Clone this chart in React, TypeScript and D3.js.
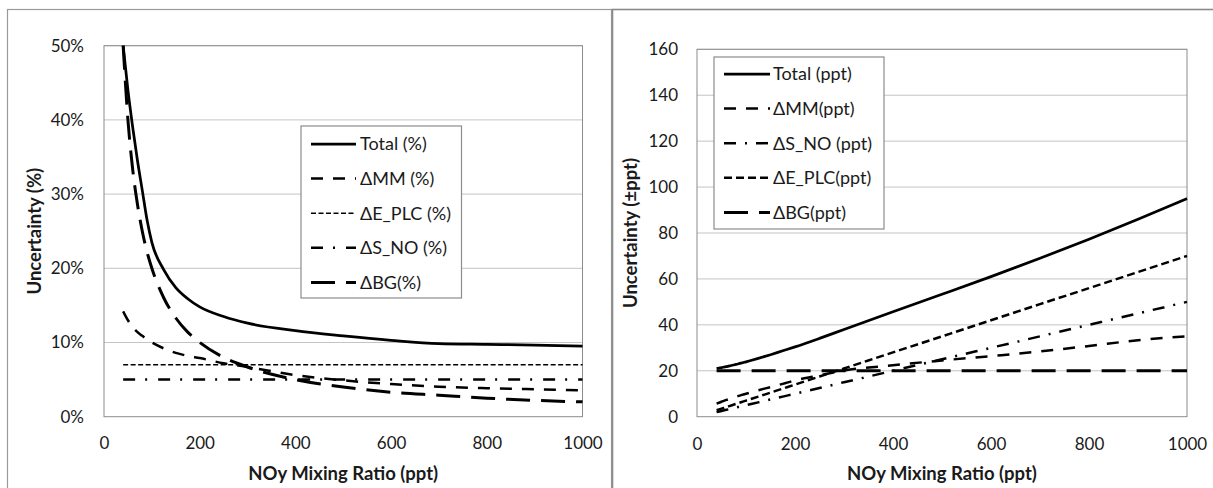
import React, { useEffect, useRef } from 'react';
import * as d3 from 'd3';

// NOy mixing ratio (ppt) sample points shared by all series
const noy = [40, 50, 60, 70, 80, 90, 100, 125, 150, 175, 200, 250, 300, 400, 500, 600, 700, 800, 900, 1000];

// left panel, relative uncertainty (%)
const totalPct = [50, 44, 39, 34.5, 30.5, 26.5, 23.5, 19.8, 17.4, 15.9, 14.8, 13.5, 12.6, 11.6, 10.9, 10.3, 9.85, 9.75, 9.65, 9.5];
const mmPct = [14.2, 13, 12.1, 11.4, 10.9, 10.4, 10, 9.2, 8.6, 8.2, 7.9, 7.2, 6.7, 5.6, 4.9, 4.4, 4.05, 3.85, 3.7, 3.55];
const eplcPct = [7, 7, 7, 7, 7, 7, 7, 7, 7, 7, 7, 7, 7, 7, 7, 7, 7, 7, 7, 7];
const snoPct = [5, 5, 5, 5, 5, 5, 5, 5, 5, 5, 5, 5, 5, 5, 5, 5, 5, 5, 5, 5];
const bgPct = [50, 40, 33.3, 28.6, 25, 22.2, 20, 16, 13.3, 11.4, 10, 8, 6.7, 5, 4, 3.3, 2.9, 2.5, 2.2, 2];

// right panel, absolute uncertainty (ppt)
const totalPpt = [21, 21.4, 21.8, 22.3, 22.8, 23.3, 23.9, 25.4, 27, 28.7, 30.4, 34.1, 38, 45.7, 53.3, 61, 69, 77.3, 86, 95];
const mmPpt = [5.7, 6.5, 7.3, 8, 8.7, 9.4, 10, 11.5, 12.9, 14.3, 15.8, 18, 20.1, 22.4, 24.5, 26.4, 28.4, 30.8, 33.3, 35];
const snoPpt = [2, 2.5, 3, 3.5, 4, 4.5, 5, 6.25, 7.5, 8.75, 10, 12.5, 15, 20, 25, 30, 35, 40, 45, 50];
const eplcPpt = [2.8, 3.5, 4.2, 4.9, 5.6, 6.3, 7, 8.75, 10.5, 12.25, 14, 17.5, 21, 28, 35, 42, 49, 56, 63, 70];
const bgPpt = [20, 20, 20, 20, 20, 20, 20, 20, 20, 20, 20, 20, 20, 20, 20, 20, 20, 20, 20, 20];

const xTicks = [0, 200, 400, 600, 800, 1000];
const pctTicks = [0, 10, 20, 30, 40, 50];
const pptTicks = [0, 20, 40, 60, 80, 100, 120, 140, 160];

const FONT = 'Lato, "Open Sans", sans-serif';
const INK = '#1a1a1a';

type Series = { name: string; values: number[]; width: number; dash: string | null };

const leftSeries: Series[] = [
  { name: 'Total (%)', values: totalPct, width: 2.75, dash: null },
  { name: 'ΔMM (%)', values: mmPct, width: 2.5, dash: '12 10' },
  { name: 'ΔE_PLC (%)', values: eplcPct, width: 1.5, dash: '5 2.5' },
  { name: 'ΔS_NO (%)', values: snoPct, width: 2.5, dash: '12 10 2 11' },
  { name: 'ΔBG(%)', values: bgPct, width: 3, dash: '24 11' },
];

const rightSeries: Series[] = [
  { name: 'Total (ppt)', values: totalPpt, width: 2.75, dash: null },
  { name: 'ΔMM(ppt)', values: mmPpt, width: 2.5, dash: '12 10' },
  { name: 'ΔS_NO (ppt)', values: snoPpt, width: 2.5, dash: '12 9 2 9' },
  { name: 'ΔE_PLC(ppt)', values: eplcPpt, width: 2.5, dash: '8 4' },
  { name: 'ΔBG(ppt)', values: bgPpt, width: 3, dash: '24 11' },
];

function drawPanel(svg, opts) {
  const { id, plot, yMax, yTicks, yFmt, yTitle, yTitleX, series, legend } = opts;

  const x = d3.scaleLinear().domain([0, 1000]).range([plot.left, plot.right]);
  const y = d3.scaleLinear().domain([0, yMax]).range([plot.bottom, plot.top]);

  const g = svg.append('g');

  // gridlines
  g.append('g')
    .selectAll('line')
    .data(yTicks.filter(t => t > 0))
    .enter().append('line')
      .attr('x1', plot.left).attr('x2', plot.right)
      .attr('y1', d => y(d)).attr('y2', d => y(d))
      .attr('stroke', '#c4c4c4').attr('stroke-width', 1);

  g.append('rect')
    .attr('x', plot.left).attr('y', plot.top)
    .attr('width', plot.right - plot.left).attr('height', plot.bottom - plot.top)
    .attr('fill', 'none').attr('stroke', '#8c8c8c').attr('stroke-width', 1);

  // axes (no tick marks, labels only)
  const xAxis = g.append('g')
    .attr('transform', `translate(0,${plot.bottom})`)
    .call(d3.axisBottom(x).tickValues(xTicks).tickFormat(d3.format('d')).tickSize(0).tickPadding(opts.xPad));
  const yAxis = g.append('g')
    .attr('transform', `translate(${plot.left},0)`)
    .call(d3.axisLeft(y).tickValues(yTicks).tickFormat(yFmt).tickSize(0).tickPadding(opts.yPad));
  [xAxis, yAxis].forEach(a => {
    a.select('.domain').remove();
    a.selectAll('text').attr('font-family', FONT).attr('font-size', 17).attr('fill', INK);
  });

  // titles
  g.append('text')
    .attr('x', (plot.left + plot.right) / 2).attr('y', 479.5)
    .attr('text-anchor', 'middle')
    .attr('font-family', FONT).attr('font-size', 18.5).attr('font-weight', 'bold').attr('fill', INK)
    .text('NOy Mixing Ratio (ppt)');
  g.append('text')
    .attr('transform', `translate(${yTitleX},${(plot.top + plot.bottom) / 2}) rotate(-90)`)
    .attr('text-anchor', 'middle').attr('dy', '0.35em')
    .attr('font-family', FONT).attr('font-size', 18.5).attr('font-weight', 'bold').attr('fill', INK)
    .text(yTitle);

  // lines
  svg.append('clipPath').attr('id', id)
    .append('rect')
      .attr('x', plot.left).attr('y', plot.top - 2)
      .attr('width', plot.right - plot.left + 2).attr('height', plot.bottom - plot.top + 2);

  const line = d3.line()
    .x((d, i) => x(noy[i]))
    .y(d => y(d))
    .curve(d3.curveMonotoneX);

  const lines = g.append('g').attr('clip-path', `url(#${id})`);
  series.slice().reverse().forEach(s => {
    lines.append('path')
      .attr('d', line(s.values))
      .attr('fill', 'none')
      .attr('stroke', '#000')
      .attr('stroke-width', s.width)
      .attr('stroke-dasharray', s.dash)
      .attr('stroke-linejoin', 'round');
  });

  // legend
  const lg = g.append('g');
  lg.append('rect')
    .attr('x', legend.x).attr('y', legend.y)
    .attr('width', legend.w).attr('height', legend.h)
    .attr('fill', '#fff').attr('stroke', '#8c8c8c').attr('stroke-width', 1.2);
  series.forEach((s, i) => {
    const cy = legend.y + legend.first + i * legend.step;
    lg.append('line')
      .attr('x1', legend.x + legend.sx0).attr('x2', legend.x + legend.sx1)
      .attr('y1', cy).attr('y2', cy)
      .attr('stroke', '#000').attr('stroke-width', s.width)
      .attr('stroke-dasharray', s.dash);
    lg.append('text')
      .attr('x', legend.x + legend.tx).attr('y', cy).attr('dy', '0.35em')
      .attr('font-family', FONT).attr('font-size', 18).attr('fill', INK)
      .text(s.name);
  });
}

export default function App() {
  const svgRef = useRef(null);

  useEffect(() => {
    const svg = d3.select(svgRef.current);
    svg.selectAll('*').remove();

    svg.append('rect').attr('width', 1213).attr('height', 488).attr('fill', '#fff');

    // panel frames
    svg.append('rect')
      .attr('x', 7.5).attr('y', 9.5).attr('width', 604).attr('height', 490)
      .attr('fill', 'none').attr('stroke', '#9a9a9a').attr('stroke-width', 1.2);
    svg.append('rect')
      .attr('x', 612.5).attr('y', 9.5).attr('width', 610).attr('height', 490)
      .attr('fill', 'none').attr('stroke', '#8a8a8a').attr('stroke-width', 1.6);

    drawPanel(svg, {
      id: 'clipL',
      plot: { left: 104, right: 582.5, top: 45.7, bottom: 416.7 },
      yMax: 50,
      yTicks: pctTicks,
      yFmt: d => `${d}%`,
      yTitle: 'Uncertainty (%)',
      yTitleX: 35,
      xPad: 20,
      yPad: 20,
      series: leftSeries,
      legend: { x: 301, y: 126, w: 160.5, h: 172, first: 18, step: 34.6, sx0: 10, sx1: 55, tx: 59 },
    });

    drawPanel(svg, {
      id: 'clipR',
      plot: { left: 697, right: 1187, top: 49.3, bottom: 416.7 },
      yMax: 160,
      yTicks: pptTicks,
      yFmt: d => `${d}`,
      yTitle: 'Uncertainty (±ppt)',
      yTitleX: 631,
      xPad: 21,
      yPad: 19,
      series: rightSeries,
      legend: { x: 714, y: 57, w: 170, h: 172, first: 17, step: 34.6, sx0: 10, sx1: 56, tx: 59 },
    });
  }, []);

  return (
    <svg
      ref={svgRef}
      width={1213}
      height={488}
      style={{ position: 'absolute', left: 0, top: 0 }}
    ></svg>
  );
}
